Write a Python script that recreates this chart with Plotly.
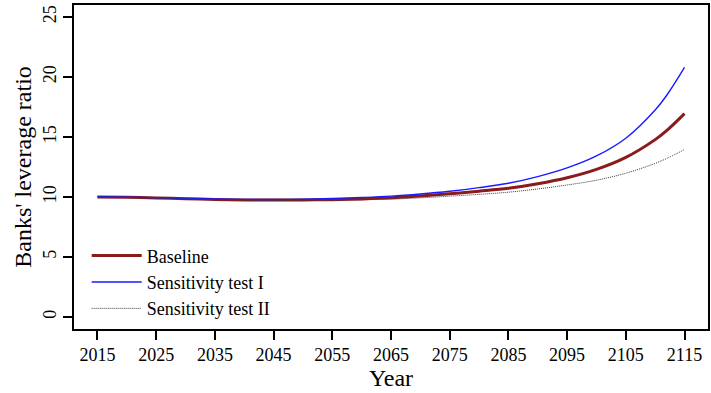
import plotly.graph_objects as go

# Projection years (5-year steps, plus 2112 where the paths steepen)
years = [2015, 2020, 2025, 2030, 2035, 2040, 2045, 2050, 2055, 2060, 2065,
         2070, 2075, 2080, 2085, 2090, 2095, 2100, 2105, 2110, 2112, 2115]

# Banks' leverage ratio under each scenario
baseline = [10.00, 9.97, 9.92, 9.86, 9.80, 9.76, 9.74, 9.75, 9.78, 9.84, 9.93,
            10.08, 10.27, 10.48, 10.72, 11.10, 11.60, 12.30, 13.30, 14.78, 15.55, 16.95]
sens_1 = [10.02, 9.99, 9.94, 9.88, 9.83, 9.80, 9.79, 9.82, 9.88, 9.96, 10.07,
          10.25, 10.48, 10.78, 11.15, 11.70, 12.42, 13.42, 14.90, 17.25, 18.50, 20.80]
sens_2 = [10.00, 9.96, 9.90, 9.84, 9.78, 9.74, 9.72, 9.72, 9.74, 9.77, 9.82,
          9.93, 10.07, 10.22, 10.40, 10.67, 11.00, 11.40, 11.98, 12.80, 13.22, 13.95]

x_ticks = list(range(2015, 2116, 10))
y_ticks = [0, 5, 10, 15, 20, 25]

FONT = "Liberation Serif"

fig = go.Figure()
fig.add_trace(go.Scatter(x=years, y=baseline, mode="lines", name="Baseline",
                         line=dict(color="#8b1a1a", width=3, shape="spline")))
fig.add_trace(go.Scatter(x=years, y=sens_1, mode="lines", name="Sensitivity test I",
                         line=dict(color="#1a1aff", width=1.4, shape="spline")))
fig.add_trace(go.Scatter(x=years, y=sens_2, mode="lines", name="Sensitivity test II",
                         line=dict(color="#3a3a3a", width=1, dash="1px,1px",
                                   shape="spline")))

axis_common = dict(showline=True, linecolor="black", linewidth=1.5, mirror=True,
                   ticks="outside", ticklen=9, tickwidth=1.5, tickcolor="black",
                   showgrid=False, zeroline=False,
                   tickfont=dict(family=FONT, size=18, color="black"))

fig.update_xaxes(range=[2011, 2119], tickvals=x_ticks,
                 title=dict(text="Year", font=dict(family=FONT, size=24, color="black"),
                            standoff=2),
                 **axis_common)
fig.update_yaxes(range=[-1, 26], tickvals=y_ticks, tickangle=-90,
                 title=dict(text="Banks' leverage ratio",
                            font=dict(family=FONT, size=24, color="black"), standoff=2),
                 **axis_common)

fig.update_layout(
    width=711, height=393,
    margin=dict(l=74, r=1, t=5, b=64),
    plot_bgcolor="white", paper_bgcolor="white",
    font=dict(family=FONT, color="black"),
    legend=dict(x=0.02, y=0.005, xanchor="left", yanchor="bottom",
                bgcolor="rgba(0,0,0,0)", font=dict(family=FONT, size=18),
                itemwidth=50, tracegroupgap=0),
)

fig.write_html("out.html")
